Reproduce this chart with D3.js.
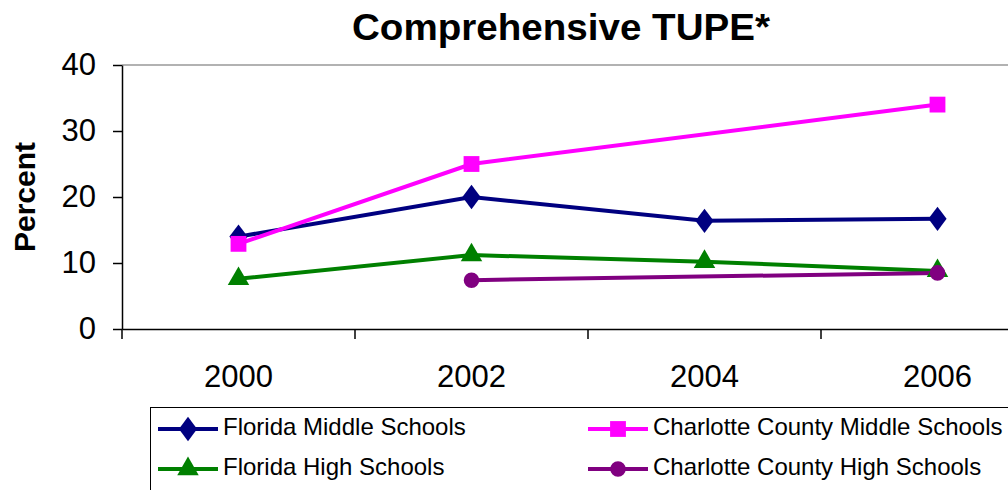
<!DOCTYPE html>
<html><head><meta charset="utf-8">
<script src="https://cdn.jsdelivr.net/npm/d3@7"></script>
<style>body{margin:0;background:#fff}svg{display:block;font-family:"Liberation Sans",Arial,sans-serif}</style>
</head><body>
<svg id="c" width="1008" height="490"></svg>
<script>
const years = ["2000","2002","2004","2006"];
const yTicks = [0,10,20,30,40];
const floridaMiddle = [14.0, 20.0, 16.4, 16.7];
const charlotteMiddle = [12.9, 25.0, null, 34.0];
const floridaHigh = [7.6, 11.2, 10.2, 8.8];
const charlotteHigh = [null, 7.4, null, 8.5];
const seriesNames = ["Florida Middle Schools","Charlotte County Middle Schools","Florida High Schools","Charlotte County High Schools"];
const seriesColors = ["#000080","#FF00FF","#008000","#800080"];
const seriesSymbols = [d3.symbolDiamond, d3.symbolSquare, d3.symbolTriangle, d3.symbolCircle];

const series = [floridaMiddle, charlotteMiddle, floridaHigh, charlotteHigh].map((v,i)=>({
  name: seriesNames[i], color: seriesColors[i], symbol: seriesSymbols[i],
  pts: v.map((y,j)=>({x:years[j], y})).filter(d=>d.y!==null)
}));

const svg = d3.select("#c");
const L=122, T=65, R=1054, B=329;
const x = d3.scaleBand().domain(years).range([L,R]);
const y = d3.scaleLinear().domain([0,40]).range([B,T]);
const FONT = "Liberation Sans, Arial, sans-serif";

function symSize(sym){
  if(sym===d3.symbolCircle) return 190;
  if(sym===d3.symbolSquare) return 250;
  if(sym===d3.symbolTriangle) return 200;
  return 170;
}
function symExtra(sym){ return sym===d3.symbolDiamond ? " scale(1.3,1)" : ""; }

// plot border (top)
svg.append("line").attr("x1",L).attr("x2",R).attr("y1",T).attr("y2",T).attr("stroke","#999").attr("stroke-width",1.5);

// y axis
const ya = svg.append("g").attr("transform",`translate(${L},0)`).call(d3.axisLeft(y).tickValues(yTicks).tickSize(9).tickSizeOuter(0).tickPadding(17));
ya.select(".domain").attr("stroke","#000").attr("stroke-width",1.5);
ya.selectAll(".tick line").attr("stroke","#000").attr("stroke-width",1.5);
ya.selectAll("text").attr("font-size",31).attr("fill","#000").attr("font-family",FONT);

// x axis
const xa = svg.append("g").attr("transform",`translate(0,${B})`).call(d3.axisBottom(x).tickSize(0).tickPadding(0));
xa.select(".domain").attr("stroke","#000").attr("stroke-width",1.5);
xa.selectAll("text").attr("font-size",31).attr("fill","#000").attr("font-family",FONT).attr("dy",null).attr("y",58);
xa.selectAll(".bt").data(years).enter().append("line").attr("class","bt")
  .attr("x1",d=>x(d)).attr("x2",d=>x(d)).attr("y1",0).attr("y2",10).attr("stroke","#000").attr("stroke-width",1.5);

// lines
const line = d3.line().x(d=>x(d.x)+x.bandwidth()/2).y(d=>y(d.y));
series.forEach(s=>{
  svg.append("path").attr("d",line(s.pts)).attr("fill","none").attr("stroke",s.color).attr("stroke-width",4);
});
series.forEach(s=>{
  svg.selectAll(null).data(s.pts).enter().append("path")
    .attr("d",d3.symbol(s.symbol,symSize(s.symbol)))
    .attr("transform",d=>`translate(${x(d.x)+x.bandwidth()/2},${y(d.y)})`+symExtra(s.symbol))
    .attr("fill",s.color);
});

// title
svg.append("text").attr("x",561).attr("y",40).attr("text-anchor","middle").attr("font-size",36).attr("font-weight","bold")
  .attr("textLength",418).attr("lengthAdjust","spacingAndGlyphs").text("Comprehensive TUPE*");
// y label
svg.append("text").attr("transform","translate(35,197) rotate(-90)").attr("text-anchor","middle").attr("font-size",30).attr("font-weight","bold").text("Percent");

// legend
svg.append("rect").attr("x",150.5).attr("y",407.5).attr("width",900).attr("height",100).attr("fill","none").attr("stroke","#000").attr("stroke-width",1);
const legPos = [[158,429],[588,429],[158,469],[588,469]];
series.forEach((s,i)=>{
  const [lx,ly]=legPos[i];
  svg.append("line").attr("x1",lx).attr("x2",lx+60).attr("y1",ly).attr("y2",ly).attr("stroke",s.color).attr("stroke-width",4);
  svg.append("path").attr("d",d3.symbol(s.symbol,symSize(s.symbol))).attr("fill",s.color)
    .attr("transform",`translate(${lx+30},${ly})`+symExtra(s.symbol));
  svg.append("text").attr("x",lx+65).attr("y",ly+6).attr("font-size",24).text(s.name);
});
</script>
</body></html>
